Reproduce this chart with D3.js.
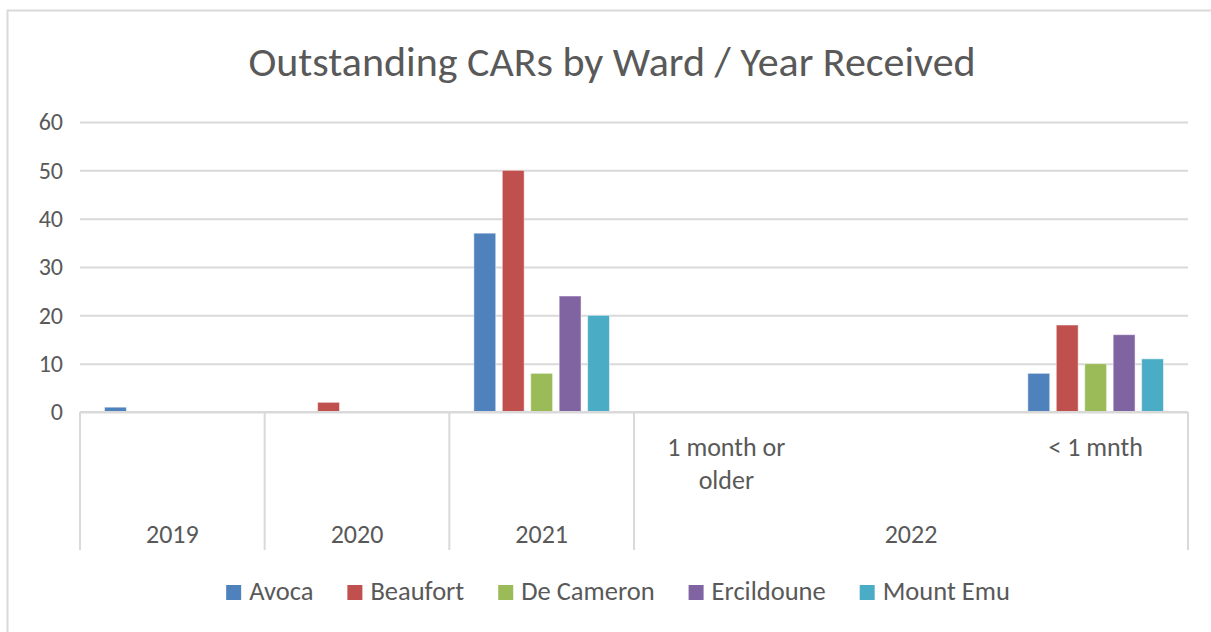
<!DOCTYPE html>
<html>
<head>
<meta charset="utf-8">
<script src="https://cdn.jsdelivr.net/npm/d3@7"></script>
<style>
  body { margin: 0; background: #fff; }
  svg { display: block; }
</style>
</head>
<body>
<div id="container"></div>
<script>
// chart data
const catYear = ['2019', '2020', '2021', '2022', '2022', '2022'];
const catSub = ['', '', '', '1 month or older', '', '< 1 mnth'];
const yearGroups = ['2019', '2020', '2021', '2022'];
const seriesNames = ['Avoca', 'Beaufort', 'De Cameron', 'Ercildoune', 'Mount Emu'];
const avoca = [1, null, 37, null, null, 8];
const beaufort = [null, 2, 50, null, null, 18];
const deCameron = [null, null, 8, null, null, 10];
const ercildoune = [null, null, 24, null, null, 16];
const mountEmu = [null, null, 20, null, null, 11];
const yTicks = [0, 10, 20, 30, 40, 50, 60];

const seriesValues = [avoca, beaufort, deCameron, ercildoune, mountEmu];
const colors = ['#4f81bd', '#c0504d', '#9bbb59', '#8064a2', '#4bacc6'];

const W = 1211, H = 632;
const font = 'Carlito, Calibri, Lato, sans-serif';
const textColor = '#595959';
const gridColor = '#d9d9d9';
const tickSize = 24;
const catSize = 26;

const svg = d3.select('#container')
    .append('svg')
    .attr('width', W)
    .attr('height', H)
    .style('font-family', font);

// chart border (runs off the right and bottom of the picture)
svg.append('rect')
    .attr('x', 7.5).attr('y', 10.5)
    .attr('width', 1230).attr('height', 660)
    .attr('fill', '#fff')
    .attr('stroke', gridColor)
    .attr('stroke-width', 2);

svg.append('text')
    .attr('x', 612)
    .attr('y', 76)
    .attr('text-anchor', 'middle')
    .attr('fill', textColor)
    .attr('font-size', 42)
    .text('Outstanding CARs by Ward / Year Received');

const plot = { left: 80, right: 1188, top: 122, bottom: 412 };

const x = d3.scaleBand()
    .domain(d3.range(catYear.length))
    .range([plot.left, plot.right]);

const xInner = d3.scaleBand()
    .domain(d3.range(seriesNames.length))
    .range([24.5, x.bandwidth() - 24.5])
    .paddingInner(0.23);

const y = d3.scaleLinear()
    .domain([0, 60])
    .range([plot.bottom, plot.top]);

// gridlines + y axis
const yAxis = svg.append('g')
    .attr('transform', `translate(${plot.left},0)`)
    .call(d3.axisLeft(y).tickValues(yTicks).tickSize(-(plot.right - plot.left)).tickPadding(17));
yAxis.select('.domain').remove();
yAxis.selectAll('.tick line')
    .attr('stroke', gridColor)
    .attr('stroke-width', 2);
yAxis.selectAll('.tick text')
    .attr('fill', textColor)
    .attr('font-size', tickSize)
    .attr('font-family', font);

// bars
const groups = svg.append('g')
    .selectAll('g')
    .data(seriesValues)
    .join('g')
    .attr('fill', (d, i) => colors[i]);

groups.each(function (vals, si) {
    d3.select(this).selectAll('rect')
        .data(vals.map((v, ci) => ({ v, ci })).filter(d => d.v != null))
        .join('rect')
        .attr('x', d => x(d.ci) + xInner(si))
        .attr('width', xInner.bandwidth())
        .attr('y', d => y(d.v))
        .attr('height', d => y(0) - y(d.v))
        .attr('stroke', '#fff')
        .attr('stroke-opacity', 0.5)
        .attr('stroke-width', 1);
});

// category axis
const axisG = svg.append('g');
axisG.append('line')
    .attr('x1', plot.left).attr('x2', plot.right)
    .attr('y1', y(0)).attr('y2', y(0))
    .attr('stroke', gridColor).attr('stroke-width', 2);

// year group boundaries
const yearSpans = yearGroups.map(yr => {
    const idx = catYear.map((c, i) => c === yr ? i : -1).filter(i => i >= 0);
    return { yr, x0: x(idx[0]), x1: x(idx[idx.length - 1]) + x.bandwidth() };
});
const dividers = [yearSpans[0].x0].concat(yearSpans.map(s => s.x1));
axisG.selectAll('.divider')
    .data(dividers)
    .join('line')
    .attr('x1', d => d).attr('x2', d => d)
    .attr('y1', y(0)).attr('y2', 550)
    .attr('stroke', gridColor).attr('stroke-width', 2);

axisG.selectAll('.year')
    .data(yearSpans)
    .join('text')
    .attr('x', d => (d.x0 + d.x1) / 2)
    .attr('y', 543)
    .attr('text-anchor', 'middle')
    .attr('fill', textColor)
    .attr('font-size', catSize)
    .text(d => d.yr);

// sub-category labels (wrapped like Excel does)
const wrapLines = {
    '1 month or older': ['1 month or', 'older'],
    '< 1 mnth': ['< 1 mnth']
};
catSub.forEach((lbl, i) => {
    if (!lbl) return;
    const lines = wrapLines[lbl] || [lbl];
    const t = axisG.append('text')
        .attr('text-anchor', 'middle')
        .attr('fill', textColor)
        .attr('font-size', catSize);
    lines.forEach((ln, k) => {
        t.append('tspan')
            .attr('x', x(i) + x.bandwidth() / 2)
            .attr('y', 456 + k * 33)
            .text(ln);
    });
});

// legend
const legend = svg.append('g');
const items = legend.selectAll('g')
    .data(seriesNames)
    .join('g');
items.append('rect')
    .attr('width', 15).attr('height', 15)
    .attr('y', -15)
    .attr('fill', (d, i) => colors[i]);
items.append('text')
    .attr('x', 23)
    .attr('y', 0)
    .attr('fill', textColor)
    .attr('font-size', 26.5)
    .text(d => d);
const itemGap = 34;
items.each(function () {
    const w = 23 + this.querySelector('text').getComputedTextLength();
    d3.select(this).attr('data-w', w);
});
const totalW = items.nodes().reduce((s, n) => s + (+n.getAttribute('data-w')), 0) + itemGap * (seriesNames.length - 1);
let lx = 618 - totalW / 2;
items.each(function () {
    d3.select(this).attr('transform', `translate(${lx},600)`);
    lx += +this.getAttribute('data-w') + itemGap;
});
</script>
</body>
</html>
